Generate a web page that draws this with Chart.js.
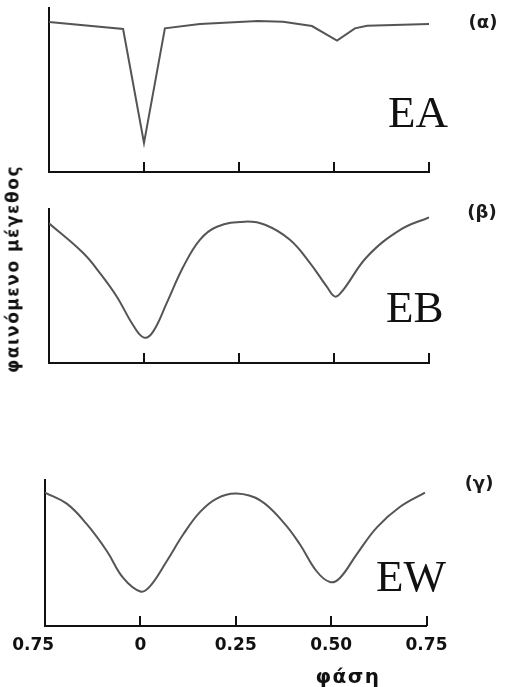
<!DOCTYPE html>
<html>
<head>
<meta charset="utf-8">
<script src="https://cdn.jsdelivr.net/npm/chart.js@4.4.1/dist/chart.umd.min.js"></script>
<style>
  html, body { margin: 0; padding: 0; background: #fff; }
  #wrap { position: relative; width: 507px; height: 687px; overflow: hidden; background: #fff; }
  #wrap canvas { position: absolute; left: 0; }
  .tag { position: absolute; font: bold 18px "DejaVu Sans"; color: #1a1a1a; line-height: 1; transform: translate(-50%, -50%); white-space: nowrap; }
  .name { position: absolute; font: 45px "Liberation Serif"; color: #111; line-height: 45px; white-space: nowrap; }
  #ylabel { position: absolute; left: 13px; top: 269px; font: bold 17px "DejaVu Sans"; letter-spacing: 1.5px; color: #111; line-height: 1;
            transform: translate(-50%, -50%) rotate(-90deg); white-space: nowrap; }
  #xlabel { position: absolute; left: 348px; top: 676px; font: bold 20px "DejaVu Sans"; letter-spacing: 1.5px; color: #111; line-height: 1;
            transform: translate(-50%, -50%); white-space: nowrap; }
</style>
</head>
<body>
<div id="wrap">
  <canvas id="chartA" width="507" height="190" style="top:0px"></canvas>
  <canvas id="chartB" width="507" height="190" style="top:190px"></canvas>
  <canvas id="chartC" width="507" height="227" style="top:460px"></canvas>

  <div class="tag" style="left:483px; top:22px">(α)</div>
  <div class="tag" style="left:482px; top:212px">(β)</div>
  <div class="tag" style="left:479px; top:483px">(γ)</div>
  <div class="name" style="left:388px; top:90px">EA</div>
  <div class="name" style="left:386px; top:285px">EB</div>
  <div class="name" style="left:376px; top:554px">EW</div>
  <div id="ylabel">φαινόμενο μέγεθος</div>
  <div id="xlabel">φάση</div>
</div>

<script>
// phase axis: -0.25 is drawn as 0.75
const phaseTicks = [-0.25, 0, 0.25, 0.5, 0.75];
const tickLabels = ['0.75', '0', '0.25', '0.50', '0.75'];

// relative brightness (top of panel = 1)
const eaPhase = [-0.25, -0.055, 0.0, 0.055, 0.147, 0.30, 0.366, 0.442, 0.508, 0.555, 0.587, 0.75];
const eaValue = [0.915, 0.872, 0.177, 0.876, 0.902, 0.921, 0.916, 0.89, 0.801, 0.876, 0.892, 0.902];

const ebPhase = [-0.25, -0.16, -0.116, -0.071, -0.029, 0.0, 0.024, 0.06, 0.103, 0.147, 0.192, 0.266,
                 0.32, 0.384, 0.437, 0.481, 0.503, 0.524, 0.587, 0.674, 0.75];
const ebValue = [0.907, 0.714, 0.584, 0.429, 0.247, 0.165, 0.204, 0.39, 0.623, 0.8, 0.885, 0.918,
                 0.896, 0.8, 0.649, 0.496, 0.431, 0.474, 0.69, 0.864, 0.946];

const ewPhase = [-0.25, -0.193, -0.141, -0.088, -0.045, 0.0, 0.025, 0.069, 0.113, 0.156, 0.2, 0.252,
                 0.314, 0.375, 0.418, 0.462, 0.497, 0.523, 0.567, 0.62, 0.68, 0.746];
const ewValue = [0.914, 0.838, 0.699, 0.514, 0.329, 0.236, 0.271, 0.444, 0.63, 0.78, 0.873, 0.907,
                 0.861, 0.71, 0.56, 0.375, 0.301, 0.329, 0.491, 0.676, 0.815, 0.914];

const axisColor = '#111';
const lineColor = '#555';

// small tick marks pointing up into the plot
const innerTicks = {
  id: 'innerTicks',
  afterDraw(chart) {
    const xs = chart.scales.x;
    const ctx = chart.ctx;
    const bottom = chart.chartArea.bottom;
    ctx.save();
    ctx.strokeStyle = axisColor;
    ctx.lineWidth = 2;
    xs.ticks.forEach((t, i) => {
      if (i === 0) return;
      const px = Math.round(xs.getPixelForValue(t.value));
      ctx.beginPath();
      ctx.moveTo(px, bottom);
      ctx.lineTo(px, bottom - 10);
      ctx.stroke();
    });
    ctx.restore();
  }
};

function makePanel(id, phase, value, smooth, padding, showLabels) {
  const ctx = document.getElementById(id).getContext('2d');
  return new Chart(ctx, {
    type: 'line',
    data: {
      datasets: [{
        data: phase.map((p, i) => ({ x: p, y: value[i] })),
        borderColor: lineColor,
        borderWidth: 2,
        pointRadius: 0,
        fill: false,
        tension: smooth ? 0.4 : 0
      }]
    },
    options: {
      responsive: false,
      animation: false,
      devicePixelRatio: 1,
      layout: { padding: padding },
      plugins: { legend: { display: false }, tooltip: { enabled: false } },
      scales: {
        x: {
          type: 'linear',
          min: -0.25,
          max: 0.75,
          afterBuildTicks: scale => { scale.ticks = phaseTicks.map(v => ({ value: v })); },
          grid: { display: false, drawTicks: false },
          border: { display: true, color: axisColor, width: 2 },
          ticks: {
            display: showLabels,
            padding: 9,
            color: '#111',
            font: { family: 'DejaVu Sans', size: 17, weight: 'bold' },
            maxRotation: 0,
            autoSkip: false,
            callback: (v, i) => (i === 0 ? tickLabels[0] + '    ' : tickLabels[i])
          }
        },
        y: {
          min: 0,
          max: 1,
          grid: { display: false, drawTicks: false },
          border: { display: true, color: axisColor, width: 2 },
          ticks: { display: false }
        }
      }
    },
    plugins: [innerTicks]
  });
}

makePanel('chartA', eaPhase, eaValue, false, { left: 49, right: 78, top: 8, bottom: 18 }, false);
makePanel('chartB', ebPhase, ebValue, true, { left: 49, right: 78, top: 19, bottom: 17 }, false);
makePanel('chartC', ewPhase, ewValue, true, { left: 45, right: 80.5, top: 20, bottom: 22.6 }, true);
</script>
</body>
</html>
